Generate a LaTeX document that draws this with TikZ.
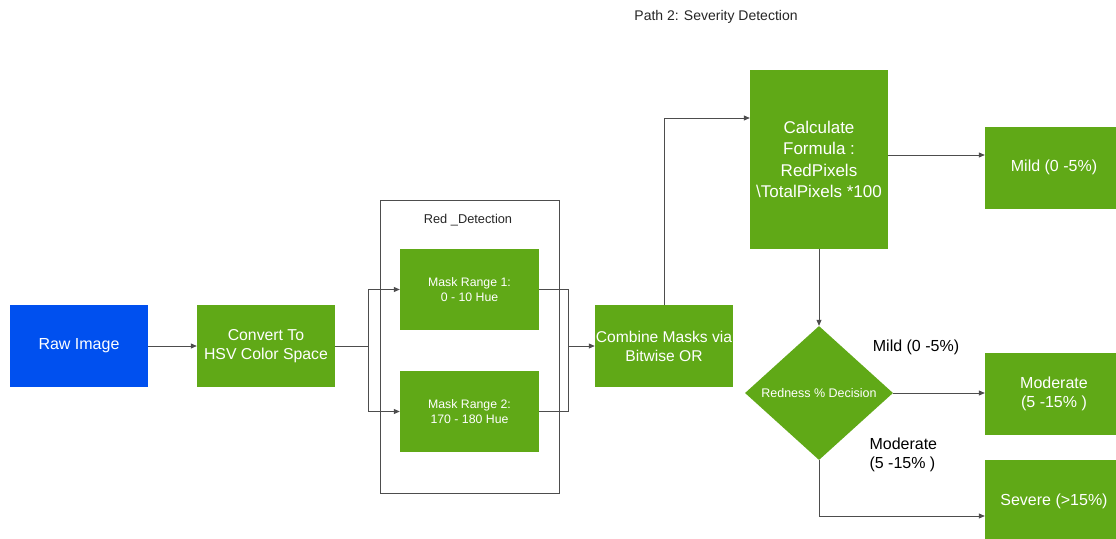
\documentclass[tikz,border=0pt]{standalone}
\usepackage{fontspec}
\setmainfont{Liberation Sans}
\usetikzlibrary{arrows.meta,shapes.geometric}
\definecolor{flowgreen}{HTML}{60A917}
\definecolor{flowblue}{HTML}{0050EF}
\definecolor{linegray}{HTML}{4D4D4D}
\tikzset{
  box/.style={draw=none, fill=flowgreen, text=white, minimum width=138pt, minimum height=82pt,
    inner sep=1pt, align=center, font=\fontsize{16}{19}\selectfont},
  smallbox/.style={box, minimum width=139pt, minimum height=81pt, font=\fontsize{12.3}{15}\selectfont},
  decision/.style={diamond, fill=flowgreen, text=white, minimum width=148pt, minimum height=134pt,
    inner sep=0pt, aspect=1.1, font=\fontsize{12.5}{14}\selectfont},
  link/.style={draw=linegray, line width=0.8pt, -{Triangle[length=6pt,width=5pt]}},
  plain/.style={draw=linegray, line width=0.8pt},
  lbl/.style={font=\fontsize{16}{19}\selectfont, text=black, align=left},
  caption/.style={font=\fontsize{12.8}{15}\selectfont, text=black!85},
}
\begin{document}
\begin{tikzpicture}[x=1pt,y=-1pt]
\useasboundingbox (0,0) rectangle (1116,538);
\clip (0,0) rectangle (1116,538);
\fill[white] (0,0) rectangle (1116,538);

% title
\node[caption, font=\fontsize{14}{16}\selectfont] (title) at (716,17) {Path 2: Severity Detection};

% container
\node[draw=linegray, line width=0.8pt, minimum width=179pt, minimum height=293pt, inner sep=0pt] (group) at (469.5,346.5) {};
\node[caption] (grouplabel) at (468,220) {Red \_Detection};

% nodes
\node[box, fill=flowblue] (raw) at (79,346) {Raw Image};
\node[box, font=\fontsize{15.8}{19}\selectfont] (hsv) at (266,346) {Convert To\\HSV Color Space};
\node[smallbox] (m1) at (469.5,289.5) {Mask Range 1:\\0 - 10 Hue};
\node[smallbox] (m2) at (469.5,411.5) {Mask Range 2:\\170 - 180 Hue};
\node[box, font=\fontsize{15.6}{19}\selectfont] (comb) at (664,346) {Combine Masks via\\Bitwise OR};
\node[box, minimum height=179pt, font=\fontsize{17}{21.5}\selectfont] (calc) at (819,159.5) {Calculate\\Formula :\\RedPixels\\\textbackslash TotalPixels *100};
\node[box] (mild) at (1054,167.5) {Mild (0 -5\%)};
\node[decision] (dec) at (819,393) {Redness \% Decision};
\node[box] (mod) at (1054,393.5) {Moderate\\(5 -15\% )};
\node[box] (sev) at (1054,501) {Severe (>15\%)};

% branch labels
\node[lbl] (lmild) at (916,347) {Mild (0 -5\%)};
\node[lbl, anchor=west] (lmod) at (866,455) {Moderate\\(5 -15\% )};

% connectors
\coordinate (split) at (368,346);
\coordinate (merge) at (568,346);
\draw[link] (raw) -- (hsv);
\draw[plain] (hsv) -- (split);
\draw[link] (split) |- (m1.west);
\draw[link] (split) |- (m2.west);
\draw[plain] (m1.east) -| (merge);
\draw[plain] (m2.east) -| (merge);
\draw[link] (merge) -- (comb);
\draw[link] (comb.north) |- (calc.west |- 0,118);
\draw[link] (calc.east |- 0,155) -- (mild.west |- 0,155);
\draw[link] (calc.south) -- (dec.north);
\draw[link] (dec.east) -- (mod.west |- dec.east);
\draw[link] (dec.south) |- (sev.west |- 0,516);
\end{tikzpicture}
\end{document}
